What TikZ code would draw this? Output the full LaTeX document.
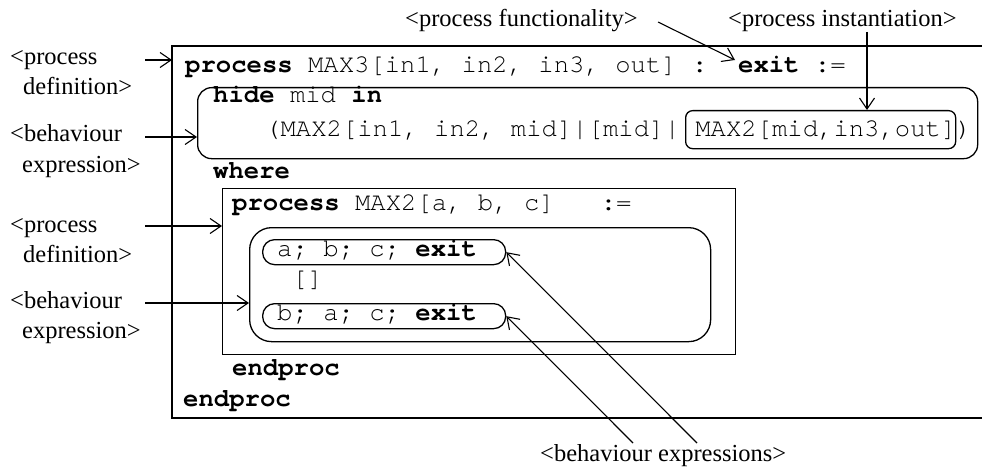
\documentclass[tikz,border=0pt]{standalone}
\usepackage{fontspec}
\setmainfont{Liberation Serif}
\newfontfamily\monof{TeX Gyre Cursor}
\usetikzlibrary{arrows.meta}
\tikzset{
  lbl/.style={font=\fontsize{24.5}{30}\selectfont, inner sep=0pt, anchor=base west},
  code/.style={font=\monof\frenchspacing\fontsize{25.6}{30}\selectfont, inner sep=0pt, anchor=base west},
  box/.style={draw, line width=1.3pt, inner sep=0pt, anchor=north west},
  frame/.style={line width=1.3pt},
  arr/.style={line width=1.1pt, -{Straight Barb[length=11pt,width=15pt,line width=1.1pt]}},
}
\begin{document}
\begin{tikzpicture}[x=1pt,y=-1pt]
\useasboundingbox (0,0) rectangle (982,468);
% outer process frame (open on the right)
\coordinate (oNW) at (172,46);
\coordinate (oSW) at (172,418);
\draw[frame] (982,46) -- (oNW) -- (oSW) -- (982,418);
% boxes
\node[box, rounded corners=14pt, minimum width=780pt, minimum height=71pt] (bA) at (197,87) {};
\node[box, rounded corners=7pt, minimum width=270pt, minimum height=38pt] (bB) at (685,110) {};
\node[box, minimum width=513pt, minimum height=166pt] (bC) at (222,188) {};
\node[box, rounded corners=22pt, minimum width=461pt, minimum height=114pt] (bD) at (249,227) {};
\node[box, rounded corners=12pt, minimum width=243pt, minimum height=25pt] (e1) at (262,239) {};
\node[box, rounded corners=12pt, minimum width=243pt, minimum height=25pt] (e2) at (262,303) {};
% code
\node[code] (l1) at (185,73) {\textbf{process} MAX3[in1, in2, in3, out] :~~\textbf{exit} :=};
\node[code] (l2) at (213,103) {\textbf{hide} mid \textbf{in}};
\node[code] (l3) at (265,136) {(MAX2[in1, in2, mid]|[mid]|~MAX2[mid,in3,out])};
\node[code] (l4) at (213,178) {\textbf{where}};
\node[code] (l5) at (232,210) {\textbf{process} MAX2[a, b, c]~~~:=};
\node[code] (t1) at (277,256) {a; b; c; \textbf{exit}};
\node[code] (t2) at (292,286) {[]};
\node[code] (t3) at (277,320) {b; a; c; \textbf{exit}};
\node[code] (ep1) at (232,375) {\textbf{endproc}};
\node[code] (ep2) at (183,406) {\textbf{endproc}};
% labels
\node[lbl] (pf) at (405,27) {<process functionality>};
\node[lbl] (pi) at (728,27) {<process instantiation>};
\node[lbl] (pd1a) at (10,65) {<process};
\node[lbl] (pd1b) at (23,95) {definition>};
\node[lbl] (be1a) at (10,142) {<behaviour};
\node[lbl] (be1b) at (22,172) {expression>};
\node[lbl] (pd2a) at (10,232) {<process};
\node[lbl] (pd2b) at (23,262) {definition>};
\node[lbl] (be2a) at (10,308) {<behaviour};
\node[lbl] (be2b) at (22,338) {expression>};
\node[lbl] (bxl) at (540,461) {<behaviour expressions>};
% arrows
\coordinate (pd1s) at (145,60);
\coordinate (be1s) at (145,137);
\coordinate (pd2s) at (145,226);
\coordinate (be2s) at (145,303);
\coordinate (pfs) at (658,22);
\coordinate (pft) at (735,60);
\coordinate (pis) at (867,32);
\coordinate (bx1) at (697,443);
\coordinate (bx2) at (633,443);
\draw[arr] (pd1s) -- (pd1s -| oNW);
\draw[arr] (be1s) -- (be1s -| bA.west);
\draw[arr] (pd2s) -- (pd2s -| bC.west);
\draw[arr] (be2s) -- (be2s -| bD.west);
\draw[arr] (pfs) -- (pft);
\draw[arr] (pis) -- (pis |- bB.north);
\draw[arr] (bx1) -- (e1.east);
\draw[arr] (bx2) -- (e2.east);
\end{tikzpicture}
\end{document}
